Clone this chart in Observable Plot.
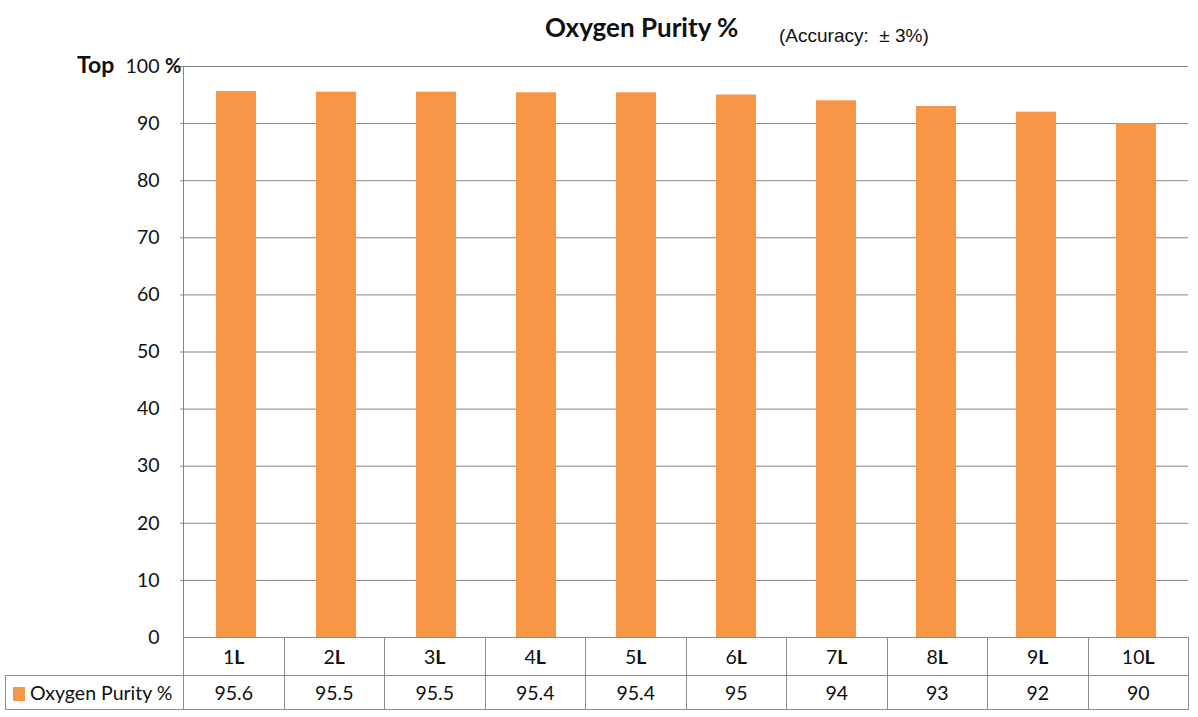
<!DOCTYPE html>
<html><head><meta charset="utf-8">
<script src="https://cdn.jsdelivr.net/npm/d3@7"></script>
<script src="https://cdn.jsdelivr.net/npm/@observablehq/plot@0.6"></script>
<style>
body{margin:0;background:#fff;}
#wrap{position:relative;width:1198px;height:717px;overflow:hidden;font-family:Lato,sans-serif;}
#chart{position:absolute;left:0;top:0;}
#chart svg{overflow:visible;}
#overlay{position:absolute;left:0;top:0;}
#tbl{position:absolute;left:5px;top:637px;border-collapse:collapse;table-layout:fixed;width:1183px;font-family:Lato,sans-serif;font-size:19.5px;color:#111;}
#tbl td{border:1px solid #8c8c8c;text-align:center;padding:0;white-space:nowrap;}
#tbl tr.h td{height:37px;}
#tbl tr.v td{height:33px;}
#tbl td.blank{border-top:none;border-left:none;}
#tbl td.leg{text-align:left;padding-left:7px;}
.sw{display:inline-block;width:12px;height:14px;background:#F79646;margin-right:5px;vertical-align:-1px;}
b{font-weight:700;}
</style></head>
<body>
<div id="wrap">
  <div id="chart"></div>
  <svg id="overlay" width="1198" height="100">
    <text x="545" y="37" font-family="Lato" font-weight="700" font-size="26" fill="#111">Oxygen Purity %</text>
    <text x="779" y="42" font-family="Liberation Sans" font-size="19" fill="#111" style="white-space:pre">(Accuracy:  ± 3%)</text>
    <text x="77" y="73" font-family="Lato" font-weight="700" font-size="23" fill="#111">Top</text>
    <text x="165" y="73" font-family="Lato" font-weight="700" font-size="20" fill="#111">%</text>
  </svg>
  <table id="tbl"></table>
</div>
<script>
const categories = ["1L","2L","3L","4L","5L","6L","7L","8L","9L","10L"];
const values = [95.6,95.5,95.5,95.4,95.4,95,94,93,92,90];
const yTicks = [0,10,20,30,40,50,60,70,80,90,100];
const seriesName = "Oxygen Purity %";
const barColor = "#F79646";

const data = categories.map((c,i)=>({cat:c, v:values[i]}));

const chart = Plot.plot({
  width:1198, height:660,
  marginTop:66, marginBottom:23, marginLeft:183, marginRight:10,
  x:{domain:categories, paddingInner:0.6, paddingOuter:0.3, axis:null},
  y:{domain:[0,100]},
  style:{fontFamily:"Lato, sans-serif", fontSize:"19.5px", color:"#111", background:"transparent"},
  marks:[
    Plot.ruleY(yTicks.slice(1), {stroke:"#868686", strokeOpacity:1, insetLeft:-3}),
    Plot.barY(data, {x:"cat", y:"v", fill:barColor}),
    Plot.axisY(yTicks, {tickSize:0, tickPadding:24, fontSize:19.5, label:null, tickFormat:d=>String(d)}),
    Plot.frame({anchor:"left", stroke:"#868686", strokeOpacity:1})
  ]
});
document.getElementById("chart").appendChild(chart);

// data table below the plot
const tbl = document.getElementById("tbl");
const cg = document.createElement("colgroup");
cg.innerHTML = `<col style="width:178px">` + categories.map(()=>`<col style="width:100.5px">`).join("");
tbl.appendChild(cg);
const trh = document.createElement("tr"); trh.className="h";
trh.innerHTML = `<td class="blank"></td>` + categories.map(c=>{
  const num = c.replace(/L$/,"");
  return `<td>${num}<b>L</b></td>`;
}).join("");
tbl.appendChild(trh);
const trv = document.createElement("tr"); trv.className="v";
trv.innerHTML = `<td class="leg"><span class="sw"></span>${seriesName}</td>` + values.map(v=>`<td>${v}</td>`).join("");
tbl.appendChild(trv);
</script>
</body></html>
